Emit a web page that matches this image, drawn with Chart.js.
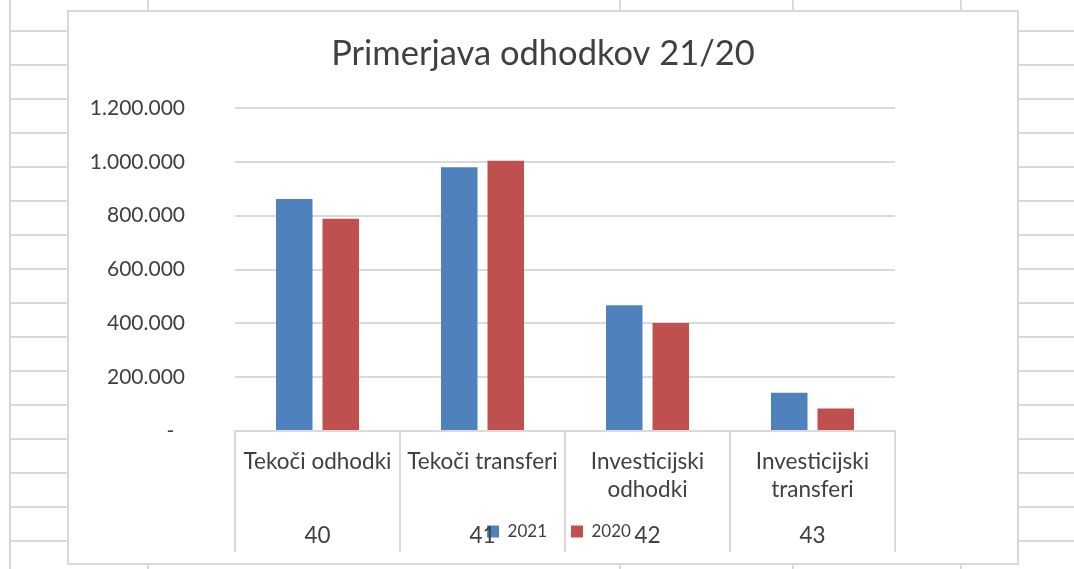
<!DOCTYPE html>
<html>
<head>
<meta charset="utf-8">
<script src="https://cdn.jsdelivr.net/npm/chart.js@4/dist/chart.umd.min.js"></script>
<style>
  html, body { margin: 0; padding: 0; background: #ffffff; }
  body { width: 1074px; height: 569px; position: relative; overflow: hidden; }
  .hline { position: absolute; left: 10px; width: 1064px; height: 2px; background: #d9d9d9; }
  .vline { position: absolute; top: 0; width: 2px; height: 569px; background: #d9d9d9; }
  #frame { position: absolute; left: 67px; top: 10px; width: 952px; height: 555px;
           box-sizing: border-box; border: 2px solid #d9d9d9; background: #ffffff; z-index: 2; }
  #wrap { position: absolute; left: 0; top: 0; width: 948px; height: 551px; }
</style>
</head>
<body>
<div id="sheet"></div>
<div id="frame"><div id="wrap"><canvas id="c"></canvas></div></div>
<script>
// ---- data ----
const categoryLabels = [['Tekoči odhodki'], ['Tekoči transferi'], ['Investicijski', 'odhodki'], ['Investicijski', 'transferi']];
const groupCodes = ['40', '41', '42', '43'];
const seriesNames = ['2021', '2020'];
const values2021 = [862000, 980000, 467000, 142000];
const values2020 = [789000, 1004000, 401000, 84000];
const yTickValues = [0, 200000, 400000, 600000, 800000, 1000000, 1200000];

// ---- spreadsheet background (decoration) ----
const sheet = document.getElementById('sheet');
for (let y = 31; y < 569; y += 34) {
  const d = document.createElement('div'); d.className = 'hline'; d.style.top = (y - 1) + 'px'; sheet.appendChild(d);
}
[10, 148, 620, 793, 961].forEach(x => {
  const d = document.createElement('div'); d.className = 'vline'; d.style.left = (x - 1) + 'px'; sheet.appendChild(d);
});

// ---- chart ----
Chart.defaults.font.family = 'Lato';
Chart.defaults.color = '#404040';

const fmt = v => v === 0 ? '-  ' : String(v).replace(/\B(?=(\d{3})+(?!\d))/g, '.');

// place the legend inside the category-axis band, as in the original
const legendPlace = {
  id: 'legendPlace',
  afterLayout(chart) {
    const l = chart.legend;
    if (!l) return;
    const dy = chart.chartArea.bottom + 68 - l.top;
    l.top += dy; l.bottom += dy;
    l.left += 16; l.right += 16;
  }
};

new Chart(document.getElementById('c'), {
  type: 'bar',
  data: {
    labels: categoryLabels,
    datasets: [
      { label: seriesNames[0], data: values2021, backgroundColor: '#4F81BD', borderWidth: 0,
        categoryPercentage: 0.5636, barPercentage: 0.785 },
      { label: seriesNames[1], data: values2020, backgroundColor: '#C0504D', borderWidth: 0,
        categoryPercentage: 0.5636, barPercentage: 0.785 }
    ]
  },
  options: {
    responsive: true,
    maintainAspectRatio: false,
    animation: false,
    layout: { padding: { left: 0, right: 0, top: 0, bottom: 0 } },
    plugins: {
      title: {
        display: true,
        text: 'Primerjava odhodkov 21/20',
        color: '#404040',
        font: { size: 34.5, weight: 'normal', lineHeight: 1.2 },
        padding: { top: 21, bottom: -17.4 }
      },
      legend: {
        position: 'top',
        labels: { boxWidth: 12, boxHeight: 12, padding: 24, color: '#404040', font: { size: 17 } }
      },
      tooltip: { enabled: false }
    },
    scales: {
      x: {
        type: 'category',
        position: 'bottom',
        weight: 0,
        offset: true,
        grid: { display: true, drawOnChartArea: false, drawTicks: true, tickLength: 121, color: '#d9d9d9', lineWidth: 2, offset: true },
        border: { display: true, color: '#d9d9d9', width: 2 },
        ticks: { padding: -104.5, maxRotation: 0, minRotation: 0, autoSkip: false, color: '#404040',
                 font: { size: 22.5, lineHeight: '28px' } },
        afterFit(s) { s.height = 76; }
      },
      xOuter: {
        type: 'category',
        position: 'bottom',
        weight: 1,
        labels: groupCodes,
        offset: true,
        grid: { display: false, drawTicks: false },
        border: { display: false },
        ticks: { padding: 15, maxRotation: 0, minRotation: 0, autoSkip: false, color: '#404040',
                 font: { size: 22.5, lineHeight: 1.2 } },
        afterFit(s) { s.height = 56; }
      },
      y: {
        position: 'left',
        min: 0,
        max: 1200000,
        afterBuildTicks(s) { s.ticks = yTickValues.map(v => ({ value: v })); },
        grid: { color: '#d9d9d9', lineWidth: 2, drawTicks: false },
        border: { display: false },
        ticks: { padding: 50, color: '#404040', font: { size: 21 }, callback: v => fmt(v) },
        afterFit(s) { s.width = 166; }
      },
      yRight: {
        type: 'linear',
        position: 'right',
        grid: { display: false, drawTicks: false },
        border: { display: false },
        ticks: { display: false },
        afterFit(s) { s.width = 122; }
      }
    }
  },
  plugins: [legendPlace]
});
</script>
</body>
</html>
